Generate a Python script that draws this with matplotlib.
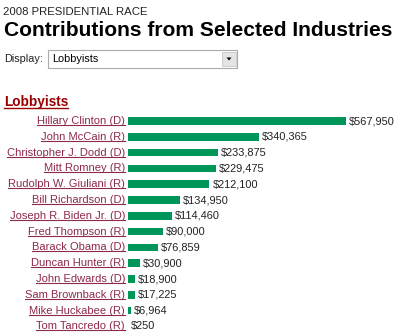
import matplotlib.pyplot as plt
from matplotlib.patches import Rectangle, Polygon

plt.rcParams['font.family'] = ['Liberation Sans', 'DejaVu Sans']

candidates = ['Hillary Clinton (D)', 'John McCain (R)', 'Christopher J. Dodd (D)',
              'Mitt Romney (R)', 'Rudolph W. Giuliani (R)', 'Bill Richardson (D)',
              'Joseph R. Biden Jr. (D)', 'Fred Thompson (R)', 'Barack Obama (D)',
              'Duncan Hunter (R)', 'John Edwards (D)', 'Sam Brownback (R)',
              'Mike Huckabee (R)', 'Tom Tancredo (R)']
amounts = [567950, 340365, 233875, 229475, 212100, 134950, 114460,
           90000, 76859, 30900, 18900, 17225, 6964, 250]

W, H = 400, 335
fig = plt.figure(figsize=(W / 100, H / 100), dpi=100)
fig.patch.set_facecolor('white')

def fx(px):
    return px / W

def fy(py):
    return 1 - py / H

# header
fig.text(fx(3), fy(12), '2008 PRESIDENTIAL RACE', fontsize=8.2, va='center', ha='left', color='#222222')
fig.text(fx(4), fy(30), 'Contributions from Selected Industries', fontsize=15.1,
         fontweight='bold', va='center', ha='left', color='black')
fig.text(fx(4), fy(59), 'Display:', fontsize=7.8, va='center', ha='left', color='#222222')

# drop-down box
fig.patches.append(Rectangle((fx(48), fy(68)), fx(189), (68 - 50) / H, transform=fig.transFigure,
                             facecolor='white', edgecolor='#aaaaaa', linewidth=0.8))
fig.patches.append(Rectangle((fx(222), fy(66)), fx(14), 14 / H, transform=fig.transFigure,
                             facecolor='#e4e4e4', edgecolor='#c8c8c8', linewidth=0.6))
fig.patches.append(Polygon([(fx(226.5), fy(57.5)), (fx(231.5), fy(57.5)), (fx(229), fy(60.5))],
                           closed=True, transform=fig.transFigure, facecolor='black', edgecolor='none'))
fig.text(fx(52), fy(59), 'Lobbyists', fontsize=7.8, va='center', ha='left', color='black')

# section heading
head = fig.text(fx(4), fy(102), 'Lobbyists', fontsize=9.8, fontweight='bold',
                va='center', ha='left', color='#990000')

# bars
row0, step = 121, 15.8
top = row0 - step / 2
bottom = top + step * len(candidates)
ax = fig.add_axes([fx(128), fy(bottom), fx(272), (bottom - top) / H])
xmax = amounts[0] * 272 / 218
ax.set_xlim(0, xmax)
ax.set_ylim(len(candidates) - 0.5, -0.5)
ax.axis('off')
ypos = list(range(len(candidates)))
ax.barh(ypos, amounts, height=0.47, color='#009659', edgecolor='none')

labels = []
for y, name, val in zip(ypos, candidates, amounts):
    ax.text(val + xmax * 0.011, y, f'${val:,}', va='center', ha='left', fontsize=7.9, color='#222222')
    t = ax.text(-xmax * 0.011, y, name, va='center', ha='right', fontsize=8.0, color='#8e2a4a')
    labels.append(t)

# underline the link-styled texts
fig.canvas.draw()
r = fig.canvas.get_renderer()
for t, col, off, lw in [(head, '#990000', 1.5, 1.0)] + [(t, '#8e2a4a', 1.0, 0.8) for t in labels]:
    bb = t.get_window_extent(r)
    yb = bb.y0 + off
    fig.lines.append(plt.Line2D([bb.x0 / W, bb.x1 / W], [yb / H, yb / H],
                                transform=fig.transFigure, color=col, linewidth=lw))

fig.savefig('out.png', dpi=100, facecolor='white')
